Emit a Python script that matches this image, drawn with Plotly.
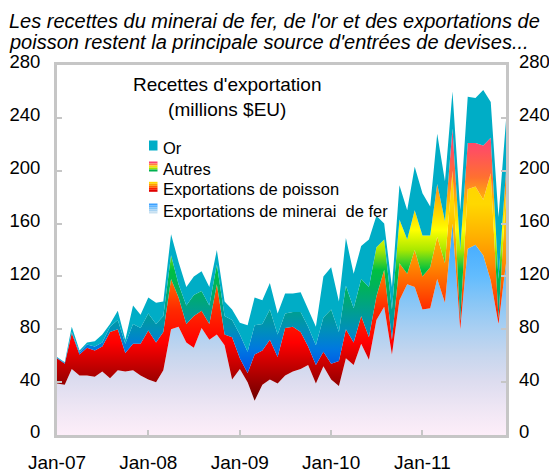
import plotly.graph_objects as go
import pandas as pd

# ---------------- data (millions $EU) ----------------
months = pd.date_range("2007-01-01", periods=60, freq="MS")

iron = [39, 38, 50, 45, 45, 44, 48, 43, 49, 48, 49, 45,
        42, 40, 49, 80, 82, 70, 66, 81, 72, 76, 68, 42,
        50, 40, 26, 38, 42, 39, 45, 48, 50, 53, 39, 52,
        42, 37, 58, 53, 69, 57, 87, 97, 61, 102, 114, 112,
        95, 96, 118, 100, 160, 80, 141, 144, 136, 117, 84, 130]

fish = [19, 16, 27, 16, 21, 20, 19, 35, 31, 14, 20, 24,
        37, 30, 29, 38, 22, 14, 24, 13, 12, 38, 8, 32,
        8, 7, 35, 26, 30, 20, 36, 34, 28, 14, 14, 11,
        12, 19, 22, 17, 21, 17, 18, 28, 11, 28, 8, 28,
        25, 31, 32, 30, 40, 6, 45, 44, 42, 81, 4, 53]

autres = [0.5, 0.5, 1, 1.5, 2.5, 3, 3, 4, 7, 7, 15, 12,
          13, 14, 12, 18, 10, 14, 16, 15, 14, 15, 14, 13,
          18, 16, 22, 20, 23, 17, 11, 11, 15, 15, 15, 26,
          41, 22, 33, 26, 28, 38, 37, 23, 23, 33, 26, 30,
          31, 24, 40, 32, 32, 54, 35, 33, 41, 27, 30, 17]

gold = [0.5, 0.5, 4, 1.5, 1.5, 4, 6, 2, 7, 3, 14, 10,
        12, 16, 11, 16, 17, 14, 14, 15, 14, 11, 11, 8,
        9, 20, 21, 18, 20, 16, 15, 14, 15, 13, 14, 31,
        32, 23, 36, 26, 25, 36, 24, 12, 17, 26, 22, 33,
        32, 22, 38, 30, 28, 30, 35, 34, 42, 27, 47, 38]

series_names = ["Exportations de minerai  de fer", "Exportations de poisson", "Autres", "Or"]
chart_title = "Recettes d'exportation<br>(millions $EU)"
main_title_lines = ["Les recettes du minerai de fer, de l'or et des exportations de",
                    "poisson restent la principale source d'entrées de devises..."]
y_ticks = [0, 40, 80, 120, 160, 200, 240, 280]

# ---------------- styles ----------------
FONT = "Liberation Sans, Arial, sans-serif"
GRAY = "#c6c6c6"
GOLD_COLOR = "#00adc6"

iron_grad = dict(type="vertical", start=0, stop=165, colorscale=[
    [0.0, "#fdeef9"], [0.12, "#efe6f4"], [0.25, "#dcdcef"], [0.37, "#c6d6ee"],
    [0.49, "#a9cff2"], [0.61, "#88c6f6"], [0.73, "#62bcfe"], [0.85, "#4cb0ff"],
    [1.0, "#3c9ffb"]])
fish_grad = dict(type="vertical", start=20, stop=210, colorscale=[
    [0.0, "#5a0000"], [0.079, "#8a0000"], [0.184, "#cc0000"], [0.263, "#ff0000"],
    [0.395, "#ff2a00"], [0.474, "#ff5500"], [0.579, "#ff8c00"], [0.684, "#ffb000"],
    [0.816, "#ffd800"], [0.92, "#ffd400"], [1.0, "#ffc800"]])
autres_grad = dict(type="vertical", start=50, stop=235, colorscale=[
    [0.0, "#0055e8"], [0.081, "#0078e0"], [0.162, "#0090b8"], [0.243, "#00a08c"],
    [0.324, "#00b060"], [0.405, "#00c040"], [0.486, "#a8e800"], [0.568, "#ffff00"],
    [0.676, "#ffc000"], [0.784, "#ff7030"], [0.892, "#ff5060"], [1.0, "#ff3c78"]])

fig = go.Figure()
for vals, name, grad in [(iron, series_names[0], iron_grad),
                         (fish, series_names[1], fish_grad),
                         (autres, series_names[2], autres_grad)]:
    fig.add_trace(go.Scatter(x=months, y=vals, name=name, mode="lines",
                             stackgroup="one", line=dict(width=0),
                             fillgradient=grad, showlegend=False))
fig.add_trace(go.Scatter(x=months, y=gold, name=series_names[3], mode="lines",
                         stackgroup="one", line=dict(width=0),
                         fillcolor=GOLD_COLOR, showlegend=False))
# empty trace so the right-hand value axis is drawn
fig.add_trace(go.Scatter(x=[], y=[], yaxis="y2", showlegend=False, hoverinfo="skip"))

# ---------------- layout ----------------
# the page has an 8px body margin, so the figure is 8px smaller and
# page coordinates are converted by subtracting that offset
OFF = 8
W, H = 557 - OFF, 474 - OFF
L, T = 57 - OFF, 65 - OFF
R = W - (506 - OFF)
B = H - (435 - OFF)
PW, PH = W - L - R, H - T - B


def px(x):
    return (x - OFF - L) / PW


def py(y):
    return (H - B - (y - OFF)) / PH


axis_common = dict(showline=True, linecolor=GRAY, linewidth=3, ticks="inside",
                   ticklen=5, tickwidth=2, tickcolor=GRAY, showgrid=False,
                   zeroline=False, automargin=False,
                   tickfont=dict(family=FONT, size=18.5, color="black"))

fig.update_layout(
    width=W, height=H, margin=dict(l=L, r=R, t=T, b=B, autoexpand=False),
    paper_bgcolor="white", plot_bgcolor="white",
    showlegend=False,
    xaxis=dict(axis_common, type="date", range=[months[0], months[-1]],
               tickvals=[d for d in months if d.month == 1], tickformat="%b-%y",
               mirror=True, ticklabelstandoff=8,
               tickfont=dict(family=FONT, size=19, color="black")),
    yaxis=dict(axis_common, range=[0, 280], tickvals=y_ticks, mirror=True,
               ticklabelstandoff=10, ticklabelshift=-3),
    yaxis2=dict(axis_common, range=[0, 280], tickvals=y_ticks, overlaying="y",
                side="right", anchor="x", showline=False,
                ticklabelstandoff=12, ticklabelshift=-3),
)

for line_text, yc in zip(main_title_lines, [20.5, 41.5]):
    fig.add_annotation(text="<i>" + line_text + "</i>", xref="paper", yref="paper",
                       x=px(7), y=py(yc), xanchor="left", yanchor="middle",
                       showarrow=False, font=dict(family=FONT, size=20, color="black"))

fig.add_annotation(text=chart_title, xref="paper", yref="paper",
                   x=px(227), y=py(97), xanchor="center", yanchor="middle",
                   showarrow=False, font=dict(family=FONT, size=19, color="black"))

# ---------------- legend (manual, small gradient squares) ----------------
legend_items = [
    ("Or", 145.5, [GOLD_COLOR]),
    ("Autres", 166.5, ["#ff4070", "#ff8040", "#ffd800", "#a0e000", "#00b050"]),
    ("Exportations de poisson", 186.8, ["#ffd800", "#ffa000", "#ff6000", "#ff2000", "#e00000"]),
    ("Exportations de minerai  de fer", 208.5, ["#3ca0ff", "#5cb4ff", "#80c4f8", "#a6d2f2", "#c8e0f0"]),
]
for label, yc, cols in legend_items:
    x0, x1 = 149, 157.5
    top, bot = yc - 5, yc + 5
    n = len(cols)
    for k, c in enumerate(cols):
        y0 = top + (bot - top) * k / n
        y1 = top + (bot - top) * (k + 1) / n
        fig.add_shape(type="rect", xref="paper", yref="paper",
                      x0=px(x0), x1=px(x1), y0=py(y1), y1=py(y0),
                      line=dict(width=0), fillcolor=c, layer="above")
    fig.add_annotation(text=label, xref="paper", yref="paper",
                       x=px(161), y=py(yc + 2.5), xanchor="left", yanchor="middle",
                       showarrow=False, font=dict(family=FONT, size=16.5, color="black"))

fig.write_html("out.html")
